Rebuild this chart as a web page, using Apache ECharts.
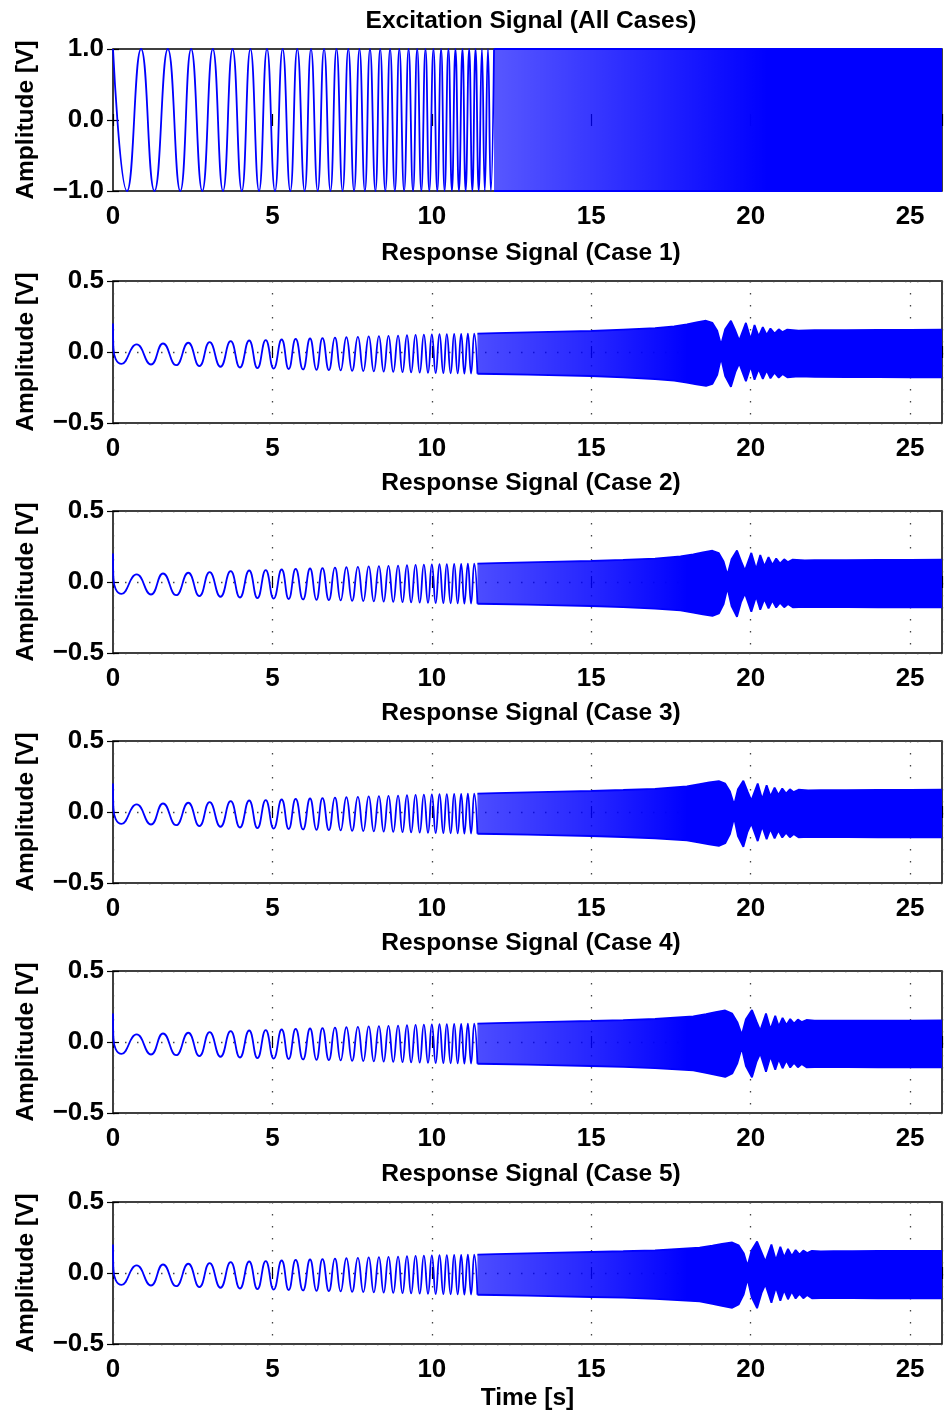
<!DOCTYPE html>
<html>
<head>
<meta charset="utf-8">
<title>Excitation and Response Signals</title>
<script src="https://cdn.jsdelivr.net/npm/echarts@6/dist/echarts.min.js"></script>
<style>
  html, body { margin: 0; padding: 0; background: #fff; }
  #chart { width: 945px; height: 1415px; }
</style>
</head>
<body>
<div id="chart"></div>
<script>
// panel titles
const titles = ['Excitation Signal (All Cases)', 'Response Signal (Case 1)', 'Response Signal (Case 2)',
  'Response Signal (Case 3)', 'Response Signal (Case 4)', 'Response Signal (Case 5)'];

// excitation sweep: peak (+1) and trough (-1) times, up to where it turns solid
const excPeakT = [0, 0.88, 1.72, 2.45, 3.13, 3.75, 4.31, 4.83, 5.32, 5.78, 6.21, 6.62, 7.01, 7.38, 7.73,
  8.06, 8.38, 8.69, 8.98, 9.27, 9.54, 9.80, 10.05, 10.29, 10.52, 10.74, 10.96, 11.17, 11.37, 11.57, 11.76, 11.95];
const excTroughT = [0.44, 1.30, 2.11, 2.80, 3.45, 4.04, 4.58, 5.08, 5.56, 6.01, 6.42, 6.82, 7.20, 7.56, 7.90,
  8.23, 8.54, 8.84, 9.13, 9.41, 9.67, 9.92, 10.17, 10.40, 10.63, 10.85, 11.06, 11.27, 11.47, 11.66, 11.85];
// dense part of the sweep (solid band)
const excBandT = [11.95, 26];
const excBandUp = [1, 1];
const excBandLo = [-1, -1];

// responses, resolvable part (same look in all five cases)
const respStartT = [0, 0.01];
const respStartV = [0.2, 0.03];
const respPeakT = [0.74, 1.57, 2.36, 3.03, 3.69, 4.27, 4.79, 5.29, 5.73, 6.18, 6.57, 6.96, 7.32, 7.68, 8.02,
  8.34, 8.64, 8.94, 9.22, 9.49, 9.75, 10.0, 10.24, 10.47, 10.70, 10.92, 11.13, 11.33];
const respPeakV = [0.053, 0.060, 0.065, 0.070, 0.076, 0.081, 0.084, 0.088, 0.092, 0.095, 0.098, 0.101, 0.104,
  0.107, 0.110, 0.112, 0.114, 0.116, 0.118, 0.120, 0.122, 0.124, 0.125, 0.126, 0.127, 0.128, 0.129, 0.130];
const respTroughT = [0.27, 1.19, 1.98, 2.71, 3.37, 3.98, 4.53, 5.04, 5.51, 5.96, 6.38, 6.77, 7.14, 7.50, 7.85,
  8.18, 8.49, 8.79, 9.08, 9.35, 9.62, 9.88, 10.12, 10.36, 10.59, 10.81, 11.02, 11.23, 11.43];
const respTroughV = [-0.084, -0.088, -0.093, -0.099, -0.104, -0.109, -0.114, -0.117, -0.120, -0.123, -0.126,
  -0.128, -0.130, -0.132, -0.134, -0.136, -0.138, -0.140, -0.142, -0.144, -0.145, -0.147, -0.148, -0.149,
  -0.150, -0.151, -0.152, -0.152, -0.153];

// responses, dense part: upper / lower envelope per case
const c1T = [11.43, 12, 13, 14, 15, 16, 17, 17.6, 18.0, 18.3, 18.6, 18.8, 18.95, 19.07, 19.2, 19.38, 19.52,
  19.64, 19.85, 20.0, 20.12, 20.25, 20.38, 20.5, 20.62, 20.75, 20.88, 21.0, 21.15, 21.5, 22, 23, 24, 25, 26];
const c1Up = [0.130, 0.133, 0.138, 0.143, 0.148, 0.158, 0.168, 0.180, 0.195, 0.208, 0.220, 0.205, 0.150, 0.050,
  0.160, 0.220, 0.150, 0.080, 0.205, 0.090, 0.190, 0.110, 0.175, 0.120, 0.165, 0.130, 0.160, 0.140, 0.158,
  0.150, 0.153, 0.154, 0.155, 0.156, 0.157];
const c1Lo = [-0.153, -0.155, -0.159, -0.164, -0.169, -0.178, -0.190, -0.202, -0.215, -0.228, -0.238, -0.225,
  -0.160, -0.040, -0.170, -0.245, -0.140, -0.080, -0.205, -0.100, -0.195, -0.120, -0.190, -0.130, -0.185,
  -0.145, -0.180, -0.155, -0.178, -0.172, -0.175, -0.176, -0.177, -0.178, -0.178];

const c2T = [11.43, 12, 13, 14, 15, 16, 17, 17.8, 18.2, 18.5, 18.8, 19.0, 19.15, 19.27, 19.4, 19.57, 19.7,
  19.82, 20.02, 20.17, 20.3, 20.43, 20.56, 20.68, 20.8, 20.92, 21.05, 21.17, 21.32, 21.7, 22, 23, 24, 25, 26];
const c2Up = [0.130, 0.133, 0.138, 0.143, 0.148, 0.156, 0.165, 0.180, 0.195, 0.208, 0.220, 0.203, 0.145, 0.050,
  0.160, 0.222, 0.145, 0.080, 0.205, 0.090, 0.190, 0.110, 0.175, 0.120, 0.165, 0.130, 0.160, 0.140, 0.158,
  0.152, 0.153, 0.154, 0.155, 0.156, 0.157];
const c2Lo = [-0.153, -0.155, -0.159, -0.164, -0.169, -0.177, -0.187, -0.200, -0.215, -0.228, -0.238, -0.222,
  -0.155, -0.040, -0.170, -0.245, -0.140, -0.080, -0.210, -0.100, -0.195, -0.120, -0.185, -0.130, -0.180,
  -0.145, -0.178, -0.155, -0.178, -0.175, -0.176, -0.177, -0.178, -0.178, -0.179];

const c3T = [11.43, 12, 13, 14, 15, 16, 17, 18.0, 18.4, 18.7, 19.0, 19.2, 19.35, 19.48, 19.6, 19.77, 19.9,
  20.02, 20.22, 20.36, 20.5, 20.62, 20.75, 20.87, 20.99, 21.11, 21.23, 21.35, 21.5, 21.8, 22.2, 23, 24, 25, 26];
const c3Up = [0.130, 0.133, 0.138, 0.143, 0.148, 0.155, 0.163, 0.180, 0.196, 0.208, 0.218, 0.200, 0.145, 0.050,
  0.160, 0.220, 0.145, 0.080, 0.200, 0.090, 0.188, 0.110, 0.172, 0.120, 0.165, 0.130, 0.160, 0.140, 0.157,
  0.152, 0.153, 0.154, 0.155, 0.156, 0.157];
const c3Lo = [-0.153, -0.155, -0.159, -0.164, -0.169, -0.176, -0.185, -0.200, -0.216, -0.228, -0.238, -0.220,
  -0.155, -0.040, -0.170, -0.245, -0.140, -0.080, -0.205, -0.100, -0.192, -0.120, -0.185, -0.130, -0.180,
  -0.145, -0.178, -0.155, -0.178, -0.175, -0.176, -0.177, -0.178, -0.178, -0.179];

const c4T = [11.43, 12, 13, 14, 15, 16, 17, 18.2, 18.6, 18.9, 19.2, 19.42, 19.58, 19.72, 19.85, 20.04, 20.18,
  20.3, 20.48, 20.62, 20.77, 20.88, 21.0, 21.12, 21.24, 21.36, 21.48, 21.6, 21.75, 22.0, 22.4, 23, 24, 25, 26];
const c4Up = [0.130, 0.133, 0.138, 0.143, 0.148, 0.154, 0.162, 0.180, 0.196, 0.210, 0.222, 0.200, 0.140, 0.050,
  0.160, 0.225, 0.145, 0.080, 0.200, 0.090, 0.185, 0.110, 0.170, 0.120, 0.162, 0.130, 0.158, 0.140, 0.155,
  0.150, 0.150, 0.150, 0.151, 0.151, 0.152];
const c4Lo = [-0.153, -0.155, -0.159, -0.164, -0.169, -0.175, -0.184, -0.200, -0.218, -0.232, -0.246, -0.222,
  -0.150, -0.040, -0.170, -0.248, -0.140, -0.080, -0.210, -0.100, -0.195, -0.120, -0.185, -0.130, -0.180,
  -0.145, -0.178, -0.155, -0.178, -0.176, -0.177, -0.177, -0.178, -0.178, -0.178];

const c5T = [11.43, 12, 13, 14, 15, 16, 17, 18.4, 18.8, 19.1, 19.42, 19.62, 19.78, 19.9, 20.03, 20.2, 20.34,
  20.46, 20.65, 20.79, 20.93, 21.05, 21.17, 21.29, 21.41, 21.53, 21.65, 21.77, 21.92, 22.2, 22.6, 23.2, 24, 25, 26];
const c5Up = [0.130, 0.133, 0.138, 0.143, 0.148, 0.153, 0.160, 0.178, 0.193, 0.205, 0.215, 0.195, 0.140, 0.050,
  0.160, 0.222, 0.145, 0.080, 0.200, 0.090, 0.185, 0.110, 0.170, 0.120, 0.162, 0.130, 0.158, 0.140, 0.156,
  0.152, 0.153, 0.154, 0.155, 0.155, 0.156];
const c5Lo = [-0.153, -0.155, -0.159, -0.164, -0.169, -0.174, -0.182, -0.200, -0.218, -0.232, -0.245, -0.222,
  -0.150, -0.040, -0.170, -0.248, -0.140, -0.080, -0.210, -0.100, -0.195, -0.120, -0.185, -0.130, -0.180,
  -0.145, -0.178, -0.155, -0.178, -0.176, -0.177, -0.177, -0.178, -0.178, -0.179];

const FONT = 'Liberation Sans, Arial, Helvetica, sans-serif';
const BLUE = '#0000ff';
const gridTops = [49, 281, 511, 741, 971, 1202];
const gridH = 142;

function wave(startT, startV, peakT, peakV, troughT, troughV) {
  let pts = [];
  startT.forEach((t, i) => pts.push([t, startV[i]]));
  peakT.forEach((t, i) => pts.push([t, peakV[i]]));
  troughT.forEach((t, i) => pts.push([t, troughV[i]]));
  pts.sort((a, b) => a[0] - b[0]);
  return pts;
}

const panels = [
  { wave: wave([], [], excPeakT, excPeakT.map(() => 1), excTroughT, excTroughT.map(() => -1)),
    bT: excBandT, bUp: excBandUp, bLo: excBandLo },
  { bT: c1T, bUp: c1Up, bLo: c1Lo },
  { bT: c2T, bUp: c2Up, bLo: c2Lo },
  { bT: c3T, bUp: c3Up, bLo: c3Lo },
  { bT: c4T, bUp: c4Up, bLo: c4Lo },
  { bT: c5T, bUp: c5Up, bLo: c5Lo }
];
const respWave = wave(respStartT, respStartV, respPeakT, respPeakV, respTroughT, respTroughV);

const tickStyle = { inside: true, length: 6, lineStyle: { color: '#000', width: 1.2 } };
const dotted = { color: '#444', width: 1.3, type: [1.5, 10.5] };
const fmtY = v => v.toFixed(1).replace('-', '\u2212');

let grid = [], xAxis = [], yAxis = [], series = [], title = [];
panels.forEach((p, i) => {
  const isExc = i === 0;
  grid.push({ left: 113, right: 1, top: gridTops[i], height: gridH,
    show: true, borderColor: '#000', borderWidth: 1.5, backgroundColor: 'transparent' });
  title.push({ text: titles[i], left: 531, top: gridTops[i] - 40, textAlign: 'center', padding: 0,
    textStyle: { fontSize: 24.5, fontWeight: 'bold', color: '#000', fontFamily: FONT } });
  xAxis.push({
    type: 'value', gridIndex: i, min: 0, max: 26, interval: 5,
    name: i === 5 ? 'Time [s]' : '', nameLocation: 'middle', nameGap: 42,
    nameTextStyle: { fontSize: 24.5, fontWeight: 'bold', color: '#000', fontFamily: FONT },
    axisLine: { show: false },
    axisTick: tickStyle,
    axisLabel: { margin: 13, fontSize: 26, fontWeight: 'bold', color: '#000', fontFamily: FONT,
      formatter: v => (v % 5 === 0 ? String(v) : '') },
    splitLine: { show: !isExc, lineStyle: dotted }
  });
  yAxis.push({
    type: 'value', gridIndex: i, min: isExc ? -1 : -0.5, max: isExc ? 1 : 0.5, interval: isExc ? 1 : 0.5,
    name: 'Amplitude [V]', nameLocation: 'middle', nameGap: 74,
    nameTextStyle: { fontSize: 24.5, fontWeight: 'bold', color: '#000', fontFamily: FONT },
    axisLine: { show: false },
    axisTick: tickStyle,
    axisLabel: { margin: 9, fontSize: 26, fontWeight: 'bold', color: '#000', fontFamily: FONT, formatter: fmtY },
    splitLine: { show: !isExc, lineStyle: dotted }
  });
});
// mirrored ticks on top and right edges
panels.forEach((p, i) => {
  const isExc = i === 0;
  xAxis.push({ type: 'value', gridIndex: i, position: 'top', min: 0, max: 26, interval: 5,
    axisLine: { show: false }, axisLabel: { show: false }, splitLine: { show: false }, axisTick: tickStyle });
  yAxis.push({ type: 'value', gridIndex: i, position: 'right',
    min: isExc ? -1 : -0.5, max: isExc ? 1 : 0.5, interval: isExc ? 1 : 0.5,
    axisLine: { show: false }, axisLabel: { show: false }, splitLine: { show: false }, axisTick: tickStyle });
});

panels.forEach((p, i) => {
  const w = i === 0 ? p.wave : respWave;
  series.push({ type: 'line', xAxisIndex: i, yAxisIndex: i, data: w, smooth: 0.5,
    showSymbol: false, lineStyle: { color: BLUE, width: 1.8 }, z: 3 });

  // shading of the unresolved (dense) part, lighter where single cycles still show
  const stops = i === 0
    ? [[p.bT[0], 0.66], [15, 0.78], [18, 0.9], [20.5, 1], [26, 1]]
    : [[p.bT[0], 0.7], [15, 0.85], [17, 0.95], [18, 1], [26, 1]];
  series.push({
    type: 'custom', xAxisIndex: i, yAxisIndex: i, coordinateSystem: 'cartesian2d',
    data: p.bT.map((t, k) => [t, p.bUp[k], p.bLo[k]]),
    encode: { x: 0, y: [1, 2] },
    z: 2,
    renderItem: (params, api) => {
      if (params.dataIndex !== 0) return null;
      const pts = [];
      p.bT.forEach((t, k) => pts.push(api.coord([t, p.bUp[k]])));
      for (let k = p.bT.length - 1; k >= 0; k--) pts.push(api.coord([p.bT[k], p.bLo[k]]));
      const x0 = api.coord([p.bT[0], 0])[0];
      const x1 = api.coord([26, 0])[0];
      const grad = new echarts.graphic.LinearGradient(x0, 0, x1, 0,
        stops.map(s => ({ offset: (s[0] - p.bT[0]) / (26 - p.bT[0]), color: 'rgba(0,0,255,' + s[1] + ')' })), true);
      return { type: 'polygon', shape: { points: pts }, style: { fill: grad } };
    }
  });
  series.push({ type: 'line', xAxisIndex: i, yAxisIndex: i, data: p.bT.map((t, k) => [t, p.bUp[k]]),
    showSymbol: false, lineStyle: { color: BLUE, width: 1.8 }, z: 3 });
  series.push({ type: 'line', xAxisIndex: i, yAxisIndex: i, data: p.bT.map((t, k) => [t, p.bLo[k]]),
    showSymbol: false, lineStyle: { color: BLUE, width: 1.8 }, z: 3 });
});

const chart = echarts.init(document.getElementById('chart'), null, { renderer: 'canvas' });
chart.setOption({
  animation: false,
  backgroundColor: '#fff',
  title: title,
  grid: grid,
  xAxis: xAxis,
  yAxis: yAxis,
  series: series
});
</script>
</body>
</html>
